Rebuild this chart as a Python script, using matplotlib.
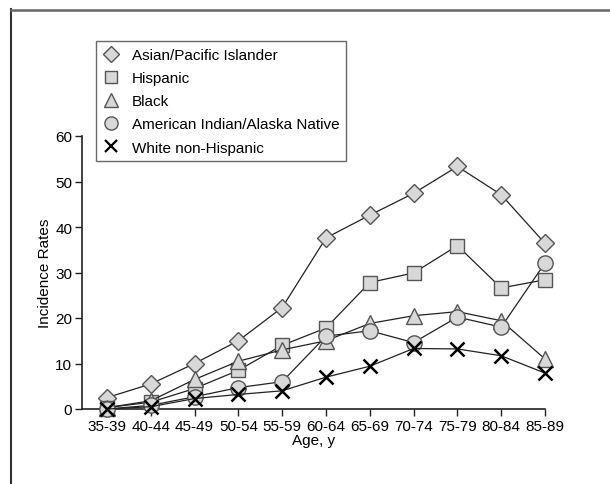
import matplotlib
matplotlib.use("Agg")
import matplotlib.pyplot as plt
from matplotlib.lines import Line2D

plt.rcParams['font.family'] = ['Liberation Sans', 'DejaVu Sans']

ages = ["35-39", "40-44", "45-49", "50-54", "55-59", "60-64", "65-69",
        "70-74", "75-79", "80-84", "85-89"]
asian = [2.5, 5.5, 10.0, 15.0, 22.3, 37.6, 42.6, 47.4, 53.3, 47.1, 36.4]
hispanic = [0.3, 1.5, 4.5, 8.5, 14.0, 17.8, 27.8, 29.9, 35.9, 26.6, 28.4]
black = [0.3, 1.8, 6.5, 10.5, 13.0, 15.0, 18.8, 20.5, 21.4, 19.4, 11.0]
aian = [0.0, 0.8, 2.7, 4.7, 6.0, 16.0, 17.2, 14.6, 20.2, 18.0, 32.1]
white = [0.0, 0.5, 2.3, 3.2, 4.0, 7.0, 9.4, 13.3, 13.2, 11.7, 7.9]

labels = ["Asian/Pacific Islander", "Hispanic", "Black",
          "American Indian/Alaska Native", "White non-Hispanic"]

fig = plt.figure(figsize=(6.1, 4.85), dpi=100)
ax = fig.add_axes([82/610, 1-410/485, (545-82)/610, (410-137)/485])

x = list(range(len(ages)))
fill = "#d8d8d8"
edge = "#555555"
series = [
    (asian, "D", 9.5),
    (hispanic, "s", 10),
    (black, "^", 11),
    (aian, "o", 11),
    (white, "x", 10),
]
handles = []
for (vals, m, ms), lab in zip(series, labels):
    if m == "x":
        ax.plot(x, vals, color="#222222", lw=0.9, marker="x", ms=ms,
                mew=1.8, mec="black", zorder=3, clip_on=False)
        h = Line2D([], [], ls="none", marker="x", ms=9, mew=1.6, mec="black")
    else:
        ax.plot(x, vals, color="#222222", lw=0.9, marker=m, ms=ms,
                mfc=fill, mec=edge, mew=1.0, zorder=3, clip_on=False)
        hs = {"D": 8.5, "s": 8, "^": 10, "o": 9.5}[m]
        h = Line2D([], [], ls="none", marker=m, ms=hs,
                   mfc=fill, mec=edge, mew=1.0)
    handles.append(h)

ax.set_xlim(-0.57, 10)
ax.set_ylim(0, 60)
ax.set_yticks(range(0, 61, 10))
ax.set_xticks(x)
ax.set_xticklabels(ages)
for s in ["top", "right"]:
    ax.spines[s].set_visible(False)
for s in ["left", "bottom"]:
    ax.spines[s].set_linewidth(1.2)
    ax.spines[s].set_color("#222222")
ax.tick_params(axis="both", labelsize=11, length=5, width=1, color="#222222", pad=2)
ax.set_xlabel("Age, y", fontsize=11, labelpad=0)
ax.set_ylabel("Incidence Rates", fontsize=11, labelpad=2)

leg = fig.legend(handles, labels, loc="upper left",
                 bbox_to_anchor=(96/610, 1-42/485), fontsize=11,
                 frameon=True, fancybox=False, handlelength=1.0,
                 handletextpad=0.9, borderpad=0.45, labelspacing=0.6,
                 borderaxespad=0)
leg.get_frame().set_edgecolor("#444444")
leg.get_frame().set_linewidth(1.0)

fig.add_artist(Line2D([11/610, 11/610], [0, 1-10/485], color="#333333", lw=1.5, transform=fig.transFigure))
fig.add_artist(Line2D([11/610, 1], [1-11/485, 1-11/485], color="#666666", lw=1.8, transform=fig.transFigure))

fig.savefig("out.png", dpi=100)
